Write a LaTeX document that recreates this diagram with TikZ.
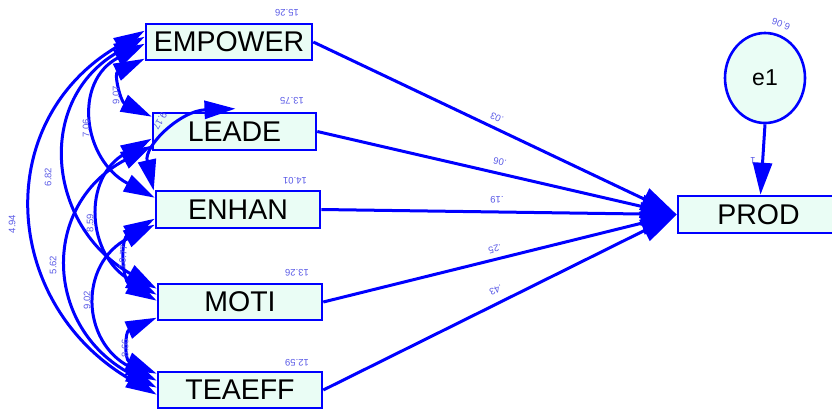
\documentclass[tikz,border=0pt]{standalone}
\usepackage{fontspec}
\setmainfont{Liberation Sans}
\usetikzlibrary{arrows.meta,shapes.geometric,calc}
\definecolor{amosblue}{RGB}{0,0,255}
\definecolor{boxfill}{RGB}{234,253,245}
\definecolor{lbl}{RGB}{90,90,230}
\begin{document}
\begin{tikzpicture}[x=1pt,y=-1pt,
  var/.style={draw=amosblue, line width=2.6pt, fill=boxfill, inner sep=0pt,
    font=\fontsize{28.5}{28.5}\selectfont, text=black},
  regpath/.style={draw=amosblue, line width=3pt, -{Triangle[length=36pt,width=23pt]}},
  covpath/.style={draw=amosblue, line width=3pt,
    {Triangle[length=31pt,width=18pt]}-{Triangle[length=31pt,width=18pt]}},
  lab/.style={text=lbl, font=\fontsize{9.5}{9.5}\selectfont, inner sep=0pt}]
\useasboundingbox (0,0) rectangle (832,410);

% observed variables
\node[var, minimum width=166pt, minimum height=36pt] (EMP) at (229,42) {EMPOWER};
\node[var, minimum width=163pt, minimum height=37pt] (LEA) at (234.5,131.5) {LEADE};
\node[var, minimum width=164pt, minimum height=37pt] (ENH) at (238,209.5) {ENHAN};
\node[var, minimum width=164pt, minimum height=36pt] (MOT) at (240,302) {MOTI};
\node[var, minimum width=164pt, minimum height=36pt] (TEA) at (240,390) {TEAEFF};
\node[var, minimum width=161pt, minimum height=37pt] (PROD) at (758.5,214.5) {PROD};
\node[var, ellipse, minimum width=80pt, minimum height=90pt,
  font=\fontsize{23}{23}\selectfont] (e1) at (765,78) {e1};

% regression paths
\draw[regpath] (EMP.east) -- (PROD.west);
\draw[regpath] (LEA.east) -- (PROD.west);
\draw[regpath] (ENH.east) -- (PROD.west);
\draw[regpath] (MOT.east) -- (PROD.west);
\draw[regpath] (TEA.east) -- (PROD.west);
\draw[draw=amosblue, line width=3pt, -{Triangle[length=32pt,width=19pt]}]
  (e1.south) -- ([xshift=2pt]PROD.north);

% covariances
\draw[covpath] ($(EMP.north west)+(0,8)$) .. controls +(-155,90) and +(-155,-90) .. ($(TEA.north west)+(0,24)$);
\draw[covpath] ($(EMP.north west)+(0,14)$) .. controls +(-110,63) and +(-110,-63) .. ($(MOT.north west)+(0,6)$);
\draw[covpath] ($(EMP.north west)+(0,21)$) .. controls +(-72,38) and +(-72,-38) .. ($(ENH.north west)+(0,8)$);
\draw[covpath] ($(EMP.north west)+(0,36)$) .. controls +(-31,15) and +(-31,-15) .. ($(LEA.north west)+(0,5)$);
\draw[covpath] ($(LEA.north west)+(0,34)$) .. controls +(-112,60) and +(-112,-60) .. ($(TEA.north west)+(0,17)$);
\draw[covpath] ($(LEA.north west)+(0,27)$) .. controls +(-70,39) and +(-70,-39) .. ($(MOT.north west)+(0,12)$);
\draw[covpath] ($(ENH.north west)+(0,35)$) .. controls +(-76,39) and +(-76,-39) .. ($(TEA.north west)+(0,10)$);
\draw[covpath] ($(ENH.north west)+(0,29)$) .. controls +(-35,20) and +(-35,-20) .. ($(MOT.north west)+(0,18)$);
\draw[covpath] ($(MOT.north west)+(0,35)$) .. controls +(-32,14) and +(-32,-14) .. ($(TEA.north west)+(0,3)$);
\coordinate (leatop) at ($(LEA.north)+(1,-3)$);
\draw[covpath] ($(ENH.north west)+(-1,1)$) .. controls +(-10,-45) and +(-55,2) .. (leatop);

% covariance labels
\node[lab, rotate=90] (c1) at (12,224) {4.94};
\node[lab, rotate=90] (c2) at (48,177) {6.82};
\node[lab, rotate=90] (c3) at (86,128) {7.06};
\node[lab, rotate=90] (c4) at (116,95) {9.07};
\node[lab, rotate=90] (c5) at (53,265) {5.62};
\node[lab, rotate=90] (c6) at (90,223) {8.59};
\node[lab, rotate=90] (c7) at (87,300) {9.02};
\node[lab, rotate=85] (c8) at (123,257) {10.77};
\node[lab, rotate=90] (c9) at (125,348) {8.66};
\node[lab, rotate=-120] (c10) at (160,121) {9.17};

% regression weight labels
\node[lab, rotate=155] (w1) at (497,118) {.03};
\node[lab, rotate=167] (w2) at (500,162) {.06};
\node[lab, rotate=180] (w3) at (497,200) {.19};
\node[lab, rotate=194] (w4) at (495,249) {.25};
\node[lab, rotate=206] (w5) at (496,290) {.43};
\node[lab, rotate=180] (w6) at (753,161) {1};

% variance labels
\node[lab, rotate=180] (v1) at (287,13) {15.26};
\node[lab, rotate=180] (v2) at (292,101) {13.75};
\node[lab, rotate=180] (v3) at (295,181) {14.01};
\node[lab, rotate=180] (v4) at (297,273) {13.26};
\node[lab, rotate=180] (v5) at (297,363) {12.59};
\node[lab, rotate=160] (v6) at (781,24) {6.06};
\end{tikzpicture}
\end{document}
